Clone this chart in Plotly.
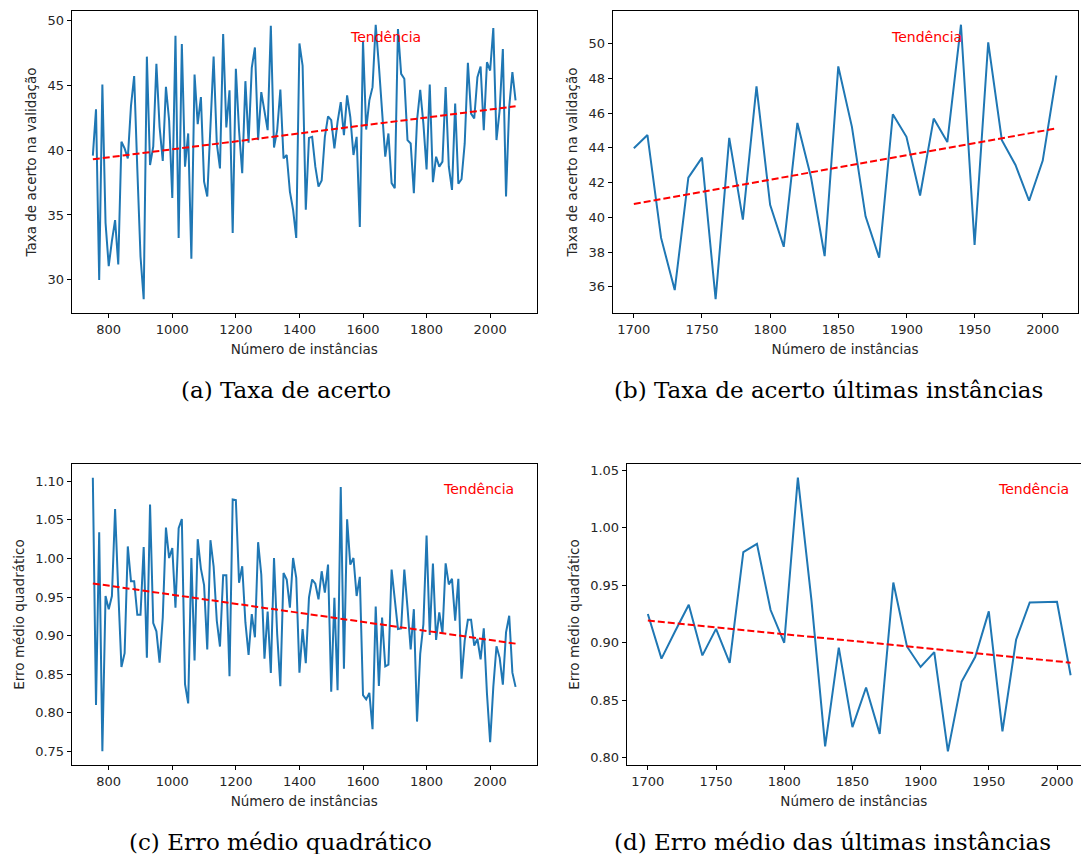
import plotly.graph_objects as go

# ---------------- data ----------------
x_full_start, x_full_step = 750, 10
acc_all = [
    39.57, 43.14, 29.98, 45.06, 34.38, 31.06, 33.0, 34.6, 31.19, 40.64,
    40.13, 39.36, 43.4, 45.7, 38.5, 31.8, 28.5, 47.2, 38.85, 40.26,
    46.64, 41.79, 39.16, 44.87, 42.3, 36.3, 48.81, 33.23, 48.17, 38.72,
    41.28, 31.62, 45.82, 42.0, 44.08, 37.57, 36.42, 41.79, 47.2, 40.51,
    38.59, 48.94, 41.74, 44.6, 33.61, 46.26, 41.53, 38.21, 45.31, 40.56,
    46.33, 47.91, 40.77, 44.47, 43.07, 41.53, 49.58, 40.2, 41.53, 44.67,
    39.36, 39.62, 36.8, 35.4, 33.23, 48.22, 46.5, 35.4, 40.94, 41.02,
    38.72, 37.19, 37.65, 41.02, 42.6, 42.3, 40.13, 42.17, 43.7, 41.15,
    44.21, 42.55, 39.62, 41.02, 34.08, 48.43, 41.58, 43.83, 44.85, 49.66,
    46.51, 43.07, 39.49, 41.28, 37.45, 37.06, 49.32, 45.87, 45.49, 40.77,
    40.51, 36.68, 42.3, 44.65, 42.04, 38.51, 45.05, 37.52, 39.49, 38.72,
    39.11, 44.85, 38.72, 36.93, 43.58, 37.4, 37.75, 40.51, 46.72, 42.81,
    42.43, 45.62, 46.44, 41.53, 46.77, 46.13, 49.4, 40.77, 43.07, 47.79,
    36.42, 43.32, 46.0, 43.83,
]
mse_all = [
    1.1045, 0.8102, 1.0339, 0.7503, 0.9513, 0.9342, 0.9513, 1.0639, 0.9577, 0.8594,
    0.8773, 1.0155, 0.9706, 0.9706, 0.927, 0.927, 1.0146, 0.8713, 1.0698, 0.9163,
    0.9056, 0.865, 0.9235, 1.0399, 1.0005, 1.0133, 0.9363, 1.039, 1.051, 0.8371,
    0.8123, 1.0005, 0.8679, 1.0249, 0.9868, 0.9654, 0.882, 1.0236, 0.9898, 0.9193,
    0.8859, 0.9783, 0.9783, 0.8474, 1.0762, 1.0754, 0.9684, 0.9898, 0.9171, 0.8752,
    0.9278, 0.8979, 1.021, 0.9792, 0.8701, 0.9312, 0.8516, 1.0005, 0.9021, 0.8345,
    0.9812, 0.9727, 0.9363, 1.0005, 0.9749, 0.8521, 0.9086, 0.8645, 0.9492, 0.9727,
    0.9672, 0.9471, 0.9834, 0.9556, 0.992, 0.8273, 0.9492, 0.8294, 1.0925, 0.8572,
    1.0506, 0.992, 1.0005, 0.9513, 0.9761, 0.823, 0.8175, 0.826, 0.779, 0.9377,
    0.835, 0.9235, 0.8602, 0.8624, 0.9856, 0.9492, 0.9086, 0.9094, 0.9856, 0.9364,
    0.8821, 0.9343, 0.7888, 0.8764, 0.915, 1.0296, 0.901, 0.9933, 0.8945, 0.93,
    0.903, 0.9937, 0.9663, 0.9736, 0.9193, 0.9736, 0.8444, 0.8936, 0.9206, 0.9206,
    0.8872, 0.8957, 0.8692, 0.9094, 0.8251, 0.7622, 0.8337, 0.8863, 0.8713, 0.8367,
    0.9043, 0.9257, 0.8521, 0.8337,
]
x_last_start, x_last_step = 1700, 10
acc_last = [
    43.97, 44.73, 38.81, 35.81, 42.28, 43.43, 35.28, 44.57, 39.86, 47.53,
    40.72, 38.30, 45.43, 42.3, 37.76, 48.68, 45.20, 40.05, 37.67, 45.93,
    44.63, 41.25, 45.68, 44.33, 51.08, 38.41, 50.07, 44.44, 43.01, 40.95,
    43.26, 48.16,
]
mse_last = [
    0.9251, 0.8862, 0.9100, 0.9331, 0.8890, 0.9121, 0.8824, 0.9789, 0.9861, 0.9285,
    0.9000, 1.0437, 0.9366, 0.8098, 0.8957, 0.8265, 0.8611, 0.8207, 0.9524, 0.8968,
    0.8789, 0.8919, 0.8055, 0.8660, 0.8876, 0.9273, 0.8228, 0.9026, 0.9351, 0.9351,
    0.9357, 0.8717,
]
# trend lines (values at first and last instance)
trend_acc_all = [39.29, 43.37]
trend_mse_all = [0.9676, 0.8897]
trend_acc_last = [40.76, 45.11]
trend_mse_last = [0.9193, 0.8827]

x_all = [x_full_start + i * x_full_step for i in range(len(acc_all))]
x_last = [x_last_start + i * x_last_step for i in range(len(acc_last))]

xticks_all = [800, 1000, 1200, 1400, 1600, 1800, 2000]
xticks_last = [1700, 1750, 1800, 1850, 1900, 1950, 2000]
yticks_a = [30, 35, 40, 45, 50]
yticks_b = [36, 38, 40, 42, 44, 46, 48, 50]
yticks_c = [0.75, 0.80, 0.85, 0.90, 0.95, 1.00, 1.05, 1.10]
yticks_d = [0.80, 0.85, 0.90, 0.95, 1.00, 1.05]

xlabel = "Número de instâncias"
ylabel_acc = "Taxa de acerto na validação"
ylabel_mse = "Erro médio quadrático"
trend_text = "Tendência"
captions = ["(a) Taxa de acerto", "(b) Taxa de acerto últimas instâncias",
            "(c) Erro médio quadrático", "(d) Erro médio das últimas instâncias"]

# ---------------- figure ----------------
W, H = 1081, 854
BLUE = "#1f77b4"
FONT = "DejaVu Sans"
TXT = "#262626"

def pad(vals):
    lo, hi = min(vals), max(vals)
    r = hi - lo
    return [lo - 0.05 * r, hi + 0.05 * r]

fig = go.Figure()

panels = [
    (x_all, acc_all, trend_acc_all, "", [71.7 / W, 536.7 / W], [1 - 313 / H, 1 - 11 / H],
     xticks_all, yticks_a, ylabel_acc, "d", pad(x_all)),
    (x_last, acc_last, trend_acc_last, "2", [612.7 / W, 1077.5 / W], [1 - 313 / H, 1 - 11 / H],
     xticks_last, yticks_b, ylabel_acc, "d", pad(x_last)),
    (x_all, mse_all, trend_mse_all, "3", [71.7 / W, 536.7 / W], [1 - 765 / H, 1 - 464 / H],
     xticks_all, yticks_c, ylabel_mse, ".2f", pad(x_all)),
    (x_last, mse_last, trend_mse_last, "4", [626.7 / W, 1.0], [1 - 765 / H, 1 - 464 / H],
     xticks_last, yticks_d, ylabel_mse, ".2f", [pad(x_last)[0], 2017.6]),
]

text_pos = [(0.674, 0.914), (0.675, 0.914), (0.875, 0.917), (0.895, 0.917)]
caption_pos = [(286, 390), (828, 390), (280, 842), (832, 842)]

for k, (xs, ys, tr, ax, xdom, ydom, xt, yt, ylab, fmt, xr) in enumerate(panels):
    xa = "x" + ax
    ya = "y" + ax
    fig.add_trace(go.Scatter(x=xs, y=ys, mode="lines", xaxis=xa, yaxis=ya,
                             line=dict(color=BLUE, width=2), showlegend=False,
                             hoverinfo="skip"))
    fig.add_trace(go.Scatter(x=[xs[0], xs[-1]], y=tr, mode="lines", xaxis=xa, yaxis=ya,
                             line=dict(color="red", width=2, dash="7px,3px"),
                             showlegend=False, hoverinfo="skip"))
    common = dict(showline=True, linecolor="black", linewidth=1, mirror=True,
                  ticks="outside", ticklen=4, tickwidth=1, tickcolor="black",
                  showgrid=False, zeroline=False,
                  tickfont=dict(family=FONT, size=13, color=TXT))
    fig.layout["xaxis" + ax] = dict(
        domain=xdom, anchor=ya, range=xr, tickvals=xt,
        title=dict(text=xlabel, font=dict(family=FONT, size=13.5, color=TXT), standoff=8),
        **common)
    fig.layout["yaxis" + ax] = dict(
        domain=ydom, anchor=xa, range=pad(ys), tickvals=yt, tickformat=fmt,
        title=dict(text=ylab, font=dict(family=FONT, size=13.5, color=TXT), standoff=7),
        **common)
    tx, ty = text_pos[k]
    fig.add_annotation(x=tx, y=ty, xref=xa + " domain", yref=ya + " domain",
                       text=trend_text, showarrow=False,
                       font=dict(family=FONT, size=14, color="red"),
                       xanchor="center", yanchor="middle")
    cx, cy = caption_pos[k]
    fig.add_annotation(x=cx / W, y=1 - cy / H, xref="paper", yref="paper",
                       text=captions[k], showarrow=False,
                       font=dict(family="DejaVu Serif", size=23, color="black"),
                       xanchor="center", yanchor="middle")

fig.update_layout(width=W, height=H, margin=dict(l=0, r=0, t=0, b=0),
                  plot_bgcolor="white", paper_bgcolor="white")

fig.write_html("out.html")
